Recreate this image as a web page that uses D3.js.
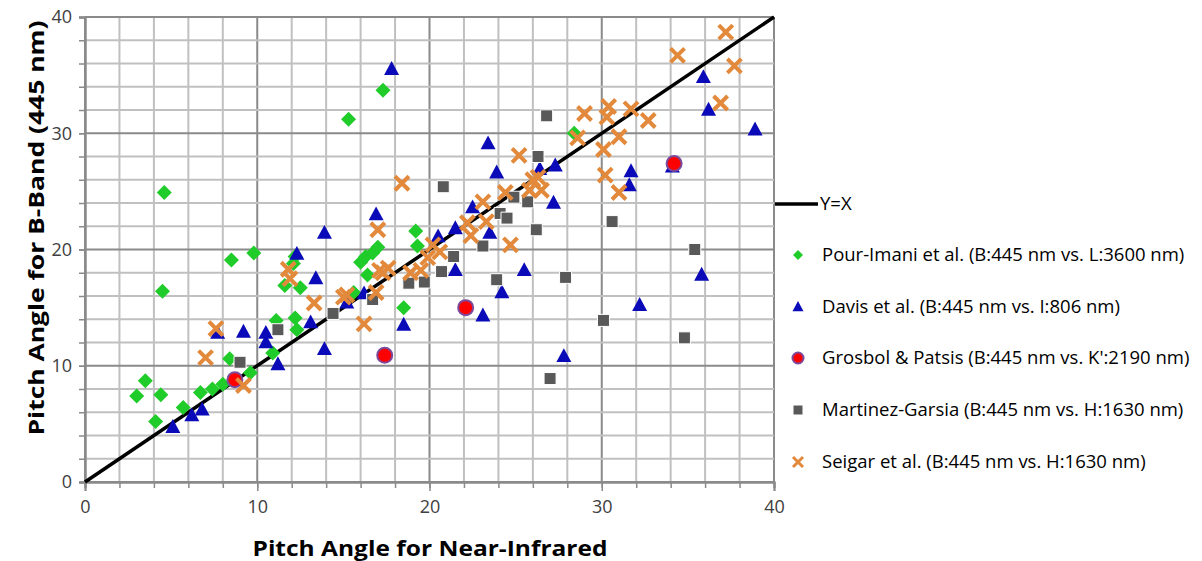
<!DOCTYPE html>
<html><head><meta charset="utf-8">
<script src="https://cdn.jsdelivr.net/npm/d3@7"></script>
<style>body{margin:0;background:#fff}svg{display:block}</style>
</head><body>
<script>
const pourImani = [[4.6,24.9],[4.5,16.4],[8.5,19.1],[9.8,19.7],[15.3,31.2],[17.3,33.7],[28.4,30.0],
 [3.0,7.4],[3.5,8.7],[4.4,7.5],[4.1,5.2],[5.7,6.4],[6.7,7.7],[7.4,8.0],[8.0,8.4],[8.4,10.6],[9.6,9.4],[10.9,11.1],
 [11.1,13.9],[12.2,14.1],[12.3,13.1],[11.6,16.9],[12.5,16.7],[12.2,19.4],[12.1,18.8],
 [16.0,18.9],[16.3,19.4],[16.7,19.7],[17.0,20.2],[16.4,17.8],[15.6,16.3],[18.5,15.0],[19.2,21.6],[19.3,20.3]];
const davis = [[17.8,35.5],[23.4,29.1],[23.9,26.6],[26.4,26.9],[27.3,27.2],[27.2,24.0],[31.7,26.7],[31.6,25.5],
 [34.1,27.1],[35.9,34.8],[36.2,32.0],[38.9,30.3],[35.8,17.8],[32.2,15.2],[27.8,10.8],[23.1,14.3],[25.5,18.2],
 [24.2,16.3],[21.5,18.2],[23.5,21.4],[20.5,21.1],[21.5,21.8],[22.5,23.6],[16.9,23.0],[13.9,21.4],[12.3,19.6],
 [13.4,17.5],[15.2,15.4],[18.5,13.5],[13.9,11.4],[13.1,13.7],[11.2,10.1],[10.5,12.8],[10.5,12.0],[9.2,12.9],
 [7.7,12.8],[6.8,6.2],[6.2,5.7],[5.1,4.7],[16.2,16.2]];
const grosbol = [[8.7,8.8],[17.4,10.9],[22.1,15.0],[34.2,27.4]];
const martinez = [[9.0,10.3],[11.2,13.1],[14.4,14.5],[16.7,15.7],[18.8,17.1],[19.7,17.2],[20.7,18.1],[21.4,19.4],
 [23.1,20.3],[23.9,17.4],[20.8,25.4],[24.1,23.1],[24.5,22.7],[24.9,24.5],[25.7,24.1],[26.2,21.7],[26.3,28.0],
 [26.8,31.5],[27.9,17.6],[30.6,22.4],[30.1,13.9],[35.4,20.0],[34.8,12.4],[27.0,8.9]];
const seigar = [[37.2,38.7],[34.4,36.7],[37.7,35.8],[36.9,32.6],[29.0,31.7],[30.4,32.3],[30.3,31.4],[31.7,32.1],
 [32.7,31.1],[28.6,29.6],[31.0,29.7],[30.1,28.6],[30.2,26.4],[31.0,24.9],[25.2,28.1],[26.3,26.2],[26.5,25.1],
 [26.0,26.0],[25.8,25.1],[24.4,24.9],[23.1,24.1],[22.2,22.3],[22.4,21.2],[23.3,22.4],[24.7,20.4],[20.2,20.4],
 [20.6,19.8],[19.9,19.3],[19.5,18.2],[18.9,18.0],[18.4,25.7],[17.0,21.7],[17.3,18.0],[17.1,18.2],[17.6,18.4],
 [16.9,16.3],[15.2,16.1],[15.0,15.9],[13.3,15.4],[16.2,13.6],[11.8,18.3],[11.9,17.5],[7.6,13.2],[7.0,10.7],[9.2,8.3]];
const identityLine = [[0,0],[40,40]];
const xTicks = [0,10,20,30,40];
const yTicks = [0,10,20,30,40];
const seriesNames = ["Pour-Imani et al. (B:445 nm vs. L:3600 nm)","Davis et al. (B:445 nm vs. I:806 nm)",
 "Grosbol & Patsis (B:445 nm vs. K':2190 nm)","Martinez-Garsia (B:445 nm vs. H:1630 nm)","Seigar et al. (B:445 nm vs. H:1630 nm)"];
const lineName = "Y=X";
const xTitle = "Pitch Angle for Near-Infrared";
const yTitle = "Pitch Angle for B-Band (445 nm)";

const W=1202,H=561;
const svg=d3.select("body").append("svg").attr("width",W).attr("height",H);
const x=d3.scaleLinear().domain([0,40]).range([85,774]);
const y=d3.scaleLinear().domain([0,40]).range([482,17]);
const minor=d3.range(0,41,2);

// grid
const g=svg.append("g");
g.selectAll(".vg").data(minor).join("line")
 .attr("x1",d=>x(d)).attr("x2",d=>x(d)).attr("y1",y(0)).attr("y2",y(40))
 .attr("stroke",d=>d%10===0?"#8a8a8a":"#c0c0c0").attr("stroke-width",2);
g.selectAll(".hg").data(minor).join("line")
 .attr("y1",d=>y(d)).attr("y2",d=>y(d)).attr("x1",x(0)).attr("x2",x(40))
 .attr("stroke",d=>d%10===0?"#8a8a8a":"#c0c0c0").attr("stroke-width",2);

// axes
svg.append("g").attr("transform",`translate(0,${y(0)})`)
 .call(d3.axisBottom(x).tickValues(minor).tickSize(6).tickFormat(""));
svg.append("g").attr("transform",`translate(0,${y(0)})`)
 .call(d3.axisBottom(x).tickValues(xTicks).tickSize(9).tickPadding(9).tickFormat(d3.format("d")));
svg.append("g").attr("transform",`translate(${x(0)},0)`)
 .call(d3.axisLeft(y).tickValues(minor).tickSize(6).tickFormat(""));
svg.append("g").attr("transform",`translate(${x(0)},0)`)
 .call(d3.axisLeft(y).tickValues(yTicks).tickSize(6).tickPadding(7).tickFormat(d3.format("d")));
svg.selectAll(".domain").attr("stroke","#8a8a8a").attr("stroke-width",2);
svg.selectAll(".tick line").attr("stroke","#8a8a8a").attr("stroke-width",1.5);
svg.selectAll(".tick text").attr("font-family","'Open Sans',sans-serif").attr("font-size",18).attr("fill","#404040");

// Y=X line
const lineGen=d3.line().x(d=>x(d[0])).y(d=>y(d[1]));
svg.append("path").datum(identityLine).attr("d",lineGen).attr("stroke","#000").attr("stroke-width",3.5).attr("fill","none");

// markers
const shapes={
 diamond:s=>`M0,${-s}L${s},0L0,${s}L${-s},0Z`,
 triangle:s=>`M0,${-s*1.1}L${s},${s*0.75}L${-s},${s*0.75}Z`,
 square:s=>`M${-s},${-s}H${s}V${s}H${-s}Z`
};
function drawX(sel,s,w){
 sel.append("path").attr("d",`M${-s},${-s}L${s},${s}M${-s},${s}L${s},${-s}`)
  .attr("stroke","#e2893b").attr("stroke-width",w).attr("fill","none");
}
const mg=svg.append("g");
mg.selectAll(".pi").data(pourImani).join("path").attr("transform",d=>`translate(${x(d[0])},${y(d[1])})`)
 .attr("d",shapes.diamond(7.5)).attr("fill","#1fcc2a");
mg.selectAll(".dv").data(davis).join("path").attr("transform",d=>`translate(${x(d[0])},${y(d[1])})`)
 .attr("d",shapes.triangle(7.5)).attr("fill","#0a0ab8");
mg.selectAll(".gp").data(grosbol).join("circle").attr("cx",d=>x(d[0])).attr("cy",d=>y(d[1])).attr("r",7.5)
 .attr("fill","#ff0000").attr("stroke","#7b4a9a").attr("stroke-width",2);
mg.selectAll(".mg").data(martinez).join("path").attr("transform",d=>`translate(${x(d[0])},${y(d[1])})`)
 .attr("d",shapes.square(6)).attr("fill","#595959").attr("stroke","#fff").attr("stroke-width",1);
mg.selectAll(".sg").data(seigar).join("g").attr("transform",d=>`translate(${x(d[0])},${y(d[1])})`)
 .each(function(){drawX(d3.select(this),7,4);});

// legend
const lg=svg.append("g").attr("font-family","'Open Sans',sans-serif").attr("font-size",18.5).attr("fill","#000");
lg.append("line").attr("x1",775).attr("x2",818).attr("y1",204).attr("y2",204).attr("stroke","#000").attr("stroke-width",3.5);
lg.append("text").attr("x",820).attr("y",204).attr("dy","0.35em").text(lineName);
const ly=[255,307,358,410,462];
const lx=798;
lg.append("path").attr("transform",`translate(${lx},${ly[0]})`).attr("d",shapes.diamond(5)).attr("fill","#1fcc2a");
lg.append("path").attr("transform",`translate(${lx},${ly[1]})`).attr("d",shapes.triangle(5.5)).attr("fill","#0a0ab8");
lg.append("circle").attr("cx",lx).attr("cy",ly[2]).attr("r",5.5).attr("fill","#ff0000").attr("stroke","#7b4a9a").attr("stroke-width",2);
lg.append("path").attr("transform",`translate(${lx},${ly[3]})`).attr("d",shapes.square(4.5)).attr("fill","#595959");
drawX(lg.append("g").attr("transform",`translate(${lx},${ly[4]})`),5,3);
lg.selectAll(".lt").data(seriesNames).join("text").attr("x",822).attr("y",(d,i)=>ly[i]).attr("dy","0.35em").text(d=>d);

// titles
svg.append("text").attr("x",430).attr("y",556).attr("text-anchor","middle")
 .attr("font-family","'Open Sans',sans-serif").attr("font-weight","bold").attr("font-size",22)
 .attr("textLength",355).attr("lengthAdjust","spacingAndGlyphs").text(xTitle);
svg.append("text").attr("transform","translate(44,228) rotate(-90)").attr("text-anchor","middle")
 .attr("font-family","'Open Sans',sans-serif").attr("font-weight","bold").attr("font-size",22)
 .attr("textLength",415).attr("lengthAdjust","spacingAndGlyphs").text(yTitle);
</script>
</body></html>
